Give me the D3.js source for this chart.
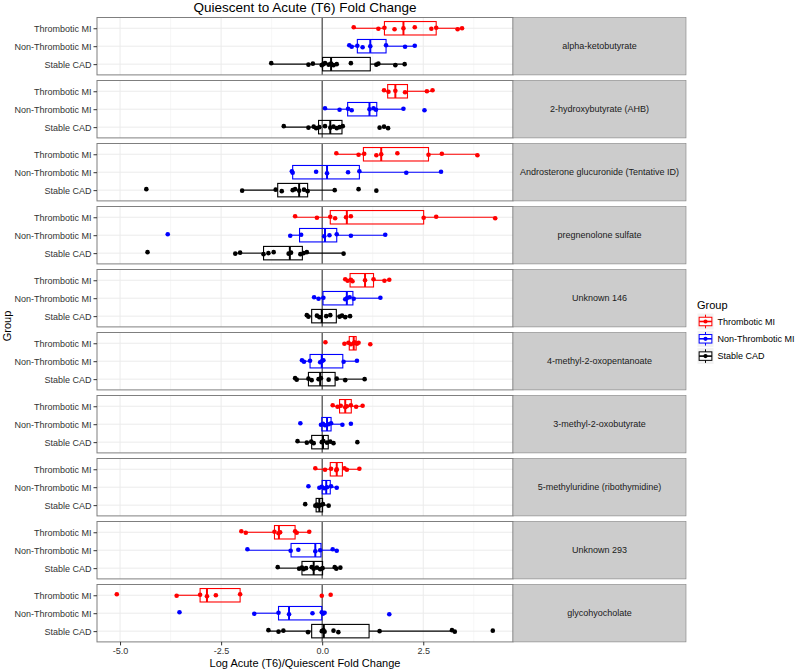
<!DOCTYPE html>
<html>
<head>
<meta charset="utf-8">
<script src="https://cdn.jsdelivr.net/npm/d3@7"></script>
<style>
  body { margin: 0; background: #fff; }
  svg { font-family: "Liberation Sans", Arial, sans-serif; }
</style>
</head>
<body>
<svg id="chart" width="795" height="672"></svg>
<script>
// ===== data =====
var metabolites = ["alpha-ketobutyrate", "2-hydroxybutyrate (AHB)", "Androsterone glucuronide (Tentative ID)",
  "pregnenolone sulfate", "Unknown 146", "4-methyl-2-oxopentanoate", "3-methyl-2-oxobutyrate",
  "5-methyluridine (ribothymidine)", "Unknown 293", "glycohyocholate"];

var groups = ["Thrombotic MI", "Non-Thrombotic MI", "Stable CAD"];
var groupColors = ["#ff0000", "#0000ff", "#000000"];

var xTicks = [-5, -2.5, 0, 2.5];
var xMinor = [-3.75, -1.25, 1.25, 3.75];

// individual fold changes, one list per metabolite
var thromboticValues = [
  [0.78, 1.39, 1.54, 1.79, 2.01, 2.29, 2.70, 2.82, 3.35, 3.46],
  [1.53, 1.64, 1.81, 2.05, 2.59, 2.73],
  [0.35, 0.90, 1.04, 1.34, 1.46, 1.86, 2.63, 2.96, 3.84],
  [-0.67, -0.13, 0.20, 0.32, 0.59, 0.71, 2.51, 2.82, 4.28],
  [0.57, 0.63, 0.71, 0.75, 1.06, 1.27, 1.54, 1.66],
  [0.08, 0.55, 0.65, 0.71, 0.78, 0.80, 0.86, 0.90, 1.19],
  [0.26, 0.38, 0.46, 0.57, 0.61, 0.71, 0.84, 1.00],
  [-0.17, 0.07, 0.22, 0.35, 0.36, 0.55, 0.61, 0.92],
  [-2.00, -1.89, -1.18, -1.08, -1.04, -0.67, -0.63, -0.32],
  [-5.08, -3.60, -3.02, -2.85, -2.63, -2.03, -0.01, 0.21]
];
var nonThromboticValues = [
  [0.67, 0.73, 0.87, 1.00, 1.19, 1.58, 2.05, 2.29],
  [0.07, 0.43, 0.64, 0.73, 1.17, 1.27, 1.33, 2.01, 2.53],
  [-0.75, -0.73, -0.15, 0.12, 0.64, 0.92, 2.08, 2.94],
  [-3.82, -0.79, -0.52, 0.05, 0.18, 0.36, 0.71, 1.56],
  [-0.20, -0.09, 0.03, 0.57, 0.61, 0.68, 0.78, 1.44],
  [-0.50, -0.45, -0.30, -0.05, -0.01, 0.03, 0.53, 0.86],
  [-0.54, -0.03, 0.02, 0.07, 0.16, 0.22, 0.50, 0.71],
  [-0.34, -0.07, -0.01, 0.05, 0.12, 0.22, 0.36],
  [-1.85, -0.78, -0.59, -0.17, -0.05, 0.26, 0.36],
  [-3.53, -1.68, -1.08, -0.82, -0.24, -0.01, 0.02, 0.06, 1.66]
];
var stableValues = [
  [-1.26, -0.34, -0.23, -0.01, 0.03, 0.07, 0.16, 0.22, 0.28, 0.36, 0.71, 1.34, 1.39, 1.81, 2.04],
  [-0.95, -0.34, -0.21, -0.15, -0.07, 0.07, 0.20, 0.28, 0.36, 0.43, 0.51, 1.42, 1.53, 1.63],
  [-4.35, -1.98, -1.15, -1.00, -0.73, -0.67, -0.57, -0.45, -0.36, 0.31, 0.90, 1.34],
  [-4.32, -2.15, -2.03, -1.45, -1.33, -1.20, -0.83, -0.77, -0.54, -0.46, -0.38, 0.53],
  [-0.38, -0.34, -0.13, -0.07, 0.10, 0.20, 0.43, 0.49, 0.57, 0.69],
  [-0.67, -0.63, -0.34, -0.26, -0.09, -0.03, 0.16, 0.36, 0.57, 1.05],
  [-0.61, -0.38, -0.27, -0.21, -0.01, 0.03, 0.12, 0.20, 0.28, 0.87],
  [-0.42, -0.17, -0.13, -0.09, -0.05, 0.02, 0.16],
  [-1.10, -0.57, -0.50, -0.46, -0.40, -0.26, -0.21, -0.13, -0.05, 0.01, 0.31, 0.35, 0.45],
  [-1.33, -1.08, -0.96, -0.35, -0.01, 0.03, 0.06, 0.28, 0.40, 1.42, 3.21, 3.28, 4.22]
];

// box [lower hinge, median, upper hinge] per metabolite
var thromboticBox = [[1.54, 2.01, 2.82], [1.62, 1.81, 2.11], [1.02, 1.46, 2.63], [0.20, 0.61, 2.51], [0.69, 1.06, 1.27],
  [0.67, 0.78, 0.84], [0.43, 0.57, 0.72], [0.20, 0.36, 0.50], [-1.18, -1.07, -0.67], [-3.02, -2.85, -2.03]];
var nonThromboticBox = [[0.87, 1.19, 1.58], [0.63, 1.17, 1.35], [-0.73, 0.12, 0.92], [-0.56, 0.07, 0.36], [0.02, 0.61, 0.76],
  [-0.30, -0.01, 0.51], [-0.01, 0.12, 0.22], [0.00, 0.10, 0.20], [-0.77, -0.17, -0.03], [-1.08, -0.82, -0.01]];
var stableBox = [[0.01, 0.22, 1.19], [-0.09, 0.20, 0.49], [-1.10, -0.57, -0.36], [-1.45, -0.80, -0.49], [-0.26, -0.01, 0.35],
  [-0.34, -0.05, 0.32], [-0.26, 0.02, 0.15], [-0.15, -0.07, 0.01], [-0.50, -0.21, 0.01], [-0.26, 0.04, 1.16]];

var valuesByGroup = [thromboticValues, nonThromboticValues, stableValues];
var boxByGroup = [thromboticBox, nonThromboticBox, stableBox];

// ===== layout =====
var svg = d3.select("#chart");
var panelLeft = 97, panelRight = 513, stripRight = 686;
var panelTop = 17.5, panelH = 57.4, panelGap = 5.6;

var x = d3.scaleLinear().domain([-5.57, 4.72]).range([panelLeft, panelRight]);

function panelY(i) { return panelTop + i * (panelH + panelGap); }

// title
svg.append("text")
  .attr("x", (panelLeft + panelRight) / 2).attr("y", 11.5)
  .attr("text-anchor", "middle").attr("font-size", "13.5px").attr("fill", "#000")
  .text("Quiescent to Acute (T6) Fold Change");

metabolites.forEach(function (name, p) {
  var top = panelY(p);
  var y = d3.scalePoint().domain(groups).range([top, top + panelH]).padding(0.6);
  var boxH = y.step() * 0.75;
  var g = svg.append("g");

  g.append("rect").attr("x", panelLeft).attr("y", top)
    .attr("width", panelRight - panelLeft).attr("height", panelH).attr("fill", "#fff");

  // grid
  g.selectAll(".minor").data(xMinor).enter().append("line")
    .attr("x1", x).attr("x2", x).attr("y1", top).attr("y2", top + panelH)
    .attr("stroke", "#f2f2f2").attr("stroke-width", 0.6);
  g.selectAll(".major").data(xTicks).enter().append("line")
    .attr("x1", x).attr("x2", x).attr("y1", top).attr("y2", top + panelH)
    .attr("stroke", "#ebebeb").attr("stroke-width", 1);
  g.selectAll(".hmajor").data(groups).enter().append("line")
    .attr("x1", panelLeft).attr("x2", panelRight)
    .attr("y1", function (d) { return y(d); }).attr("y2", function (d) { return y(d); })
    .attr("stroke", "#ebebeb").attr("stroke-width", 1);

  // zero reference line
  g.append("line").attr("x1", x(0)).attr("x2", x(0)).attr("y1", top).attr("y2", top + panelH)
    .attr("stroke", "#3a3a3a").attr("stroke-width", 1.1);

  groups.forEach(function (grp, k) {
    var vals = valuesByGroup[k][p].slice().sort(d3.ascending);
    var b = boxByGroup[k][p];
    var iqr = b[2] - b[0];
    var inside = vals.filter(function (v) { return v >= b[0] - 1.5 * iqr && v <= b[2] + 1.5 * iqr; });
    var wLo = d3.min(inside), wHi = d3.max(inside);
    var cy = y(grp), col = groupColors[k];

    g.append("line").attr("x1", x(wLo)).attr("x2", x(b[0])).attr("y1", cy).attr("y2", cy)
      .attr("stroke", col).attr("stroke-width", 1.1);
    g.append("line").attr("x1", x(b[2])).attr("x2", x(wHi)).attr("y1", cy).attr("y2", cy)
      .attr("stroke", col).attr("stroke-width", 1.1);
    g.append("rect").attr("x", x(b[0])).attr("y", cy - boxH / 2)
      .attr("width", x(b[2]) - x(b[0])).attr("height", boxH)
      .attr("fill", "none").attr("stroke", col).attr("stroke-width", 1.1);
    g.append("line").attr("x1", x(b[1])).attr("x2", x(b[1]))
      .attr("y1", cy - boxH / 2).attr("y2", cy + boxH / 2)
      .attr("stroke", col).attr("stroke-width", 2);

    g.selectAll(".pt" + k).data(valuesByGroup[k][p]).enter().append("circle")
      .attr("cx", function (d) { return x(d); })
      .attr("cy", function (d, i) { return cy + ((i * 3) % 5 - 2) * 0.5; })
      .attr("r", 2.3).attr("fill", col);
  });

  // border
  g.append("rect").attr("x", panelLeft).attr("y", top)
    .attr("width", panelRight - panelLeft).attr("height", panelH)
    .attr("fill", "none").attr("stroke", "#7f7f7f").attr("stroke-width", 1);

  // strip on the right
  g.append("rect").attr("x", panelRight).attr("y", top)
    .attr("width", stripRight - panelRight).attr("height", panelH)
    .attr("fill", "#cccccc").attr("stroke", "#7f7f7f").attr("stroke-width", 0.6);
  g.append("text").attr("x", (panelRight + stripRight) / 2).attr("y", top + panelH / 2 + 3.2)
    .attr("text-anchor", "middle").attr("font-size", "9px").attr("fill", "#1a1a1a")
    .text(name);

  // y axis
  var ya = g.append("g").attr("transform", "translate(" + panelLeft + ",0)")
    .call(d3.axisLeft(y).tickSize(3.5).tickPadding(2));
  ya.select(".domain").remove();
  ya.selectAll("line").attr("stroke", "#333");
  ya.selectAll("text").attr("font-size", "9px").attr("fill", "#333")
    .attr("font-family", "Liberation Sans, Arial, sans-serif");

  // x axis on the last panel
  if (p === metabolites.length - 1) {
    var xa = g.append("g").attr("transform", "translate(0," + (top + panelH) + ")")
      .call(d3.axisBottom(x).tickValues(xTicks).tickSize(3.5).tickPadding(2.5)
        .tickFormat(function (d) { return d.toFixed(1); }));
    xa.select(".domain").remove();
    xa.selectAll("line").attr("stroke", "#333");
    xa.selectAll("text").attr("font-size", "9px").attr("fill", "#333")
      .attr("font-family", "Liberation Sans, Arial, sans-serif");
  }
});

// axis titles
svg.append("text")
  .attr("x", (panelLeft + panelRight) / 2).attr("y", 667)
  .attr("text-anchor", "middle").attr("font-size", "11px").attr("fill", "#000")
  .text("Log Acute (T6)/Quiescent Fold Change");
svg.append("text")
  .attr("transform", "translate(10.5,326) rotate(-90)")
  .attr("text-anchor", "middle").attr("font-size", "11px").attr("fill", "#000")
  .text("Group");

// legend
var legend = svg.append("g").attr("transform", "translate(697,296)");
legend.append("text").attr("x", 0).attr("y", 13).attr("font-size", "11px").attr("fill", "#000").text("Group");
groups.forEach(function (grp, k) {
  var ky = 17 + k * 17.3, ks = 17, col = groupColors[k];
  var key = legend.append("g").attr("transform", "translate(0," + ky + ")");
  key.append("rect").attr("width", ks).attr("height", ks).attr("fill", "#f2f2f2").attr("stroke", "#fff");
  key.append("line").attr("x1", ks / 2).attr("x2", ks / 2).attr("y1", ks * 0.1).attr("y2", ks * 0.9)
    .attr("stroke", col).attr("stroke-width", 1);
  key.append("rect").attr("x", ks * 0.125).attr("y", ks * 0.25).attr("width", ks * 0.75).attr("height", ks * 0.5)
    .attr("fill", "#fff").attr("stroke", col).attr("stroke-width", 1);
  key.append("line").attr("x1", ks * 0.125).attr("x2", ks * 0.875).attr("y1", ks / 2).attr("y2", ks / 2)
    .attr("stroke", col).attr("stroke-width", 1.6);
  key.append("circle").attr("cx", ks / 2).attr("cy", ks / 2).attr("r", 2.1).attr("fill", col);
  key.append("text").attr("x", ks + 3.5).attr("y", ks / 2 + 3.2).attr("font-size", "9px").attr("fill", "#000").text(grp);
});
</script>
</body>
</html>
